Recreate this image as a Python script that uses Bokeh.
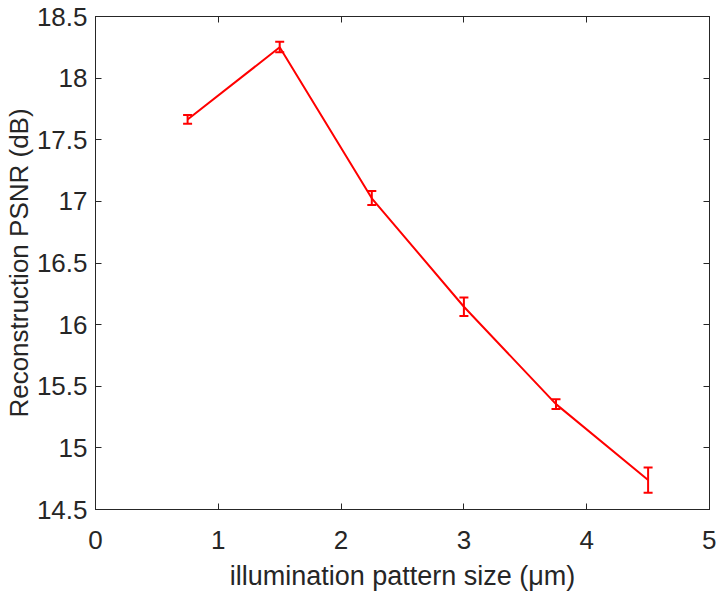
from bokeh.plotting import figure
from bokeh.models import ColumnDataSource, Whisker, TeeHead, LinearAxis, FixedTicker, Range1d
from bokeh.embed import file_html
from bokeh.resources import INLINE

# data
pattern_size = [0.75, 1.5, 2.25, 3.0, 3.75, 4.5]
psnr = [17.665, 18.25, 17.025, 16.145, 15.355, 14.74]
err_lower = [17.63, 18.21, 16.97, 16.07, 15.315, 14.635]
err_upper = [17.70, 18.295, 17.085, 16.22, 15.395, 14.84]

x_ticks = [0, 1, 2, 3, 4, 5]
y_ticks = [14.5, 15, 15.5, 16, 16.5, 17, 17.5, 18, 18.5]
y_tick_labels = ["14.5", "15", "15.5", "16", "16.5", "17", "17.5", "18", "18.5"]

FONT = "Liberation Sans"
TXT = "#262626"
RED = "#ff0000"

p = figure(width=716, height=593, output_backend="svg", toolbar_location=None,
           x_range=Range1d(0, 5), y_range=Range1d(14.5, 18.5),
           min_border_left=93, min_border_right=7, min_border_top=16, min_border_bottom=83)
p.grid.visible = False
p.outline_line_color = TXT
p.outline_line_width = 1

src = ColumnDataSource(dict(x=pattern_size, y=psnr, lo=err_lower, hi=err_upper))
p.line("x", "y", source=src, line_color=RED, line_width=2)
w = Whisker(base="x", upper="hi", lower="lo", source=src, line_color=RED, line_width=2,
            upper_head=TeeHead(size=9, line_color=RED, line_width=2),
            lower_head=TeeHead(size=9, line_color=RED, line_width=2))
p.add_layout(w)

def style(ax, labels=True):
    ax.axis_line_color = TXT
    ax.major_tick_line_color = TXT
    ax.major_tick_in = 6
    ax.major_tick_out = 0
    ax.minor_tick_line_color = None
    ax.major_label_text_font = FONT
    ax.major_label_text_font_size = "26px"
    ax.major_label_text_color = TXT
    ax.axis_label_text_font = FONT
    ax.axis_label_text_font_size = "27px"
    ax.axis_label_text_font_style = "normal"
    ax.axis_label_text_color = TXT
    if not labels:
        ax.major_label_text_font_size = "0px"
        ax.major_label_text_alpha = 0

xa = p.xaxis[0]
xa.ticker = FixedTicker(ticks=x_ticks)
xa.axis_label = "illumination pattern size (μm)"
style(xa)
xa.major_label_standoff = 21
xa.axis_label_standoff = 9

ya = p.yaxis[0]
ya.ticker = FixedTicker(ticks=y_ticks)
ya.major_label_overrides = {t: l for t, l in zip(y_ticks, y_tick_labels)}
ya.axis_label = "Reconstruction PSNR (dB)"
style(ya)
ya.axis_label_text_font_size = "26px"
ya.major_label_standoff = 8
ya.axis_label_standoff = 0

top = LinearAxis(ticker=FixedTicker(ticks=x_ticks))
style(top, labels=False)
p.add_layout(top, "above")
right = LinearAxis(ticker=FixedTicker(ticks=y_ticks))
style(right, labels=False)
p.add_layout(right, "right")

open("out.html", "w").write(file_html(p, INLINE))
